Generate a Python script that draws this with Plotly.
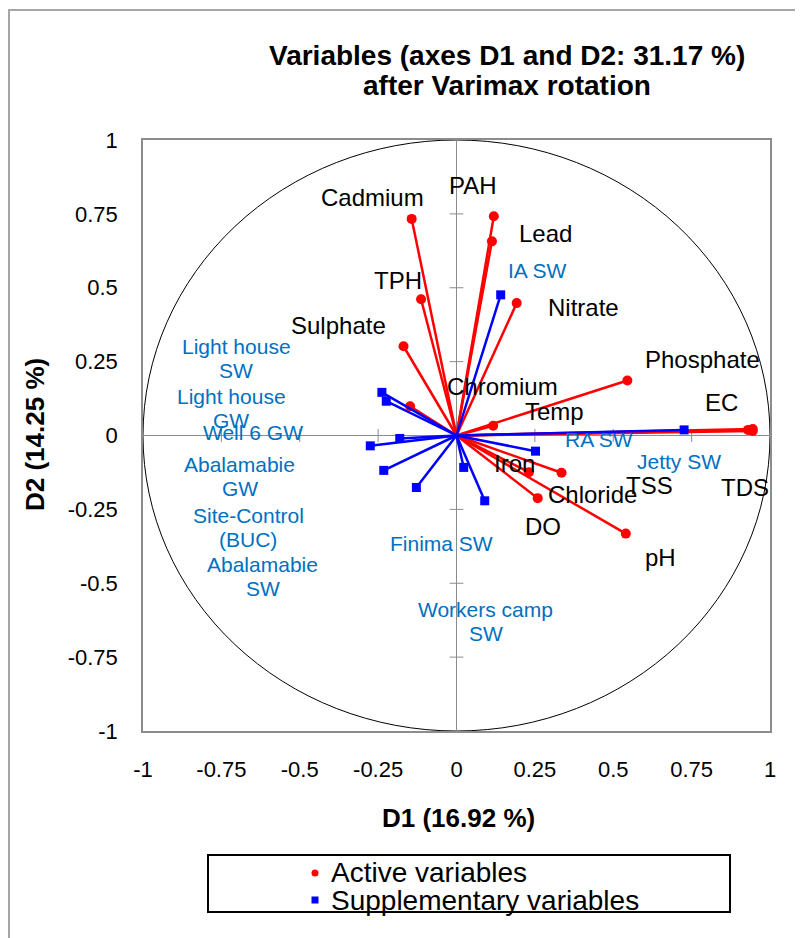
import plotly.graph_objects as go

# ---------------- data ----------------
active_names = ["Cadmium", "PAH", "Lead", "TPH", "Nitrate", "Sulphate", "Phosphate",
                "Chromium", "Temp", "EC", "TDS", "TSS", "Iron", "Chloride", "DO", "pH"]
active_d1 = [-0.143, 0.119, 0.113, -0.113, 0.192, -0.169, 0.545,
             -0.148, 0.117, 0.945, 0.945, 0.930, 0.231, 0.335, 0.259, 0.540]
active_d2 = [0.733, 0.742, 0.657, 0.461, 0.448, 0.302, 0.186,
             0.099, 0.033, 0.022, 0.015, 0.019, -0.124, -0.126, -0.212, -0.332]
# label anchor positions (data units)
active_lbl_x = [-0.267, 0.052, 0.284, -0.187, 0.405, -0.375, 0.786,
                0.147, 0.313, 0.844, 0.919, 0.616, 0.185, 0.435, 0.275, 0.650]
active_lbl_y = [0.806, 0.846, 0.683, 0.525, 0.434, 0.372, 0.257,
                0.166, 0.082, 0.113, -0.177, -0.169, -0.094, -0.200, -0.308, -0.412]

sup_names = ["Light house<br>SW", "Light house<br>GW", "Well 6 GW", "Abalamabie<br>GW",
             "Site-Control<br>(BUC)", "Abalamabie<br>SW", "Finima SW", "Workers camp<br>SW",
             "IA SW", "RA SW", "Jetty SW"]
sup_d1 = [-0.238, -0.224, -0.181, -0.275, -0.232, -0.128, 0.023, 0.090, 0.141, 0.252, 0.726]
sup_d2 = [0.146, 0.116, -0.010, -0.035, -0.118, -0.176, -0.108, -0.221, 0.476, -0.053, 0.019]
sup_lbl_x = [-0.702, -0.719, -0.650, -0.692, -0.664, -0.618, -0.048, 0.0925, 0.259, 0.456, 0.711]
sup_lbl_y = [0.259, 0.092, 0.011, -0.138, -0.311, -0.476, -0.365, -0.631, 0.558, -0.015, -0.088]

tick_vals = [-1, -0.75, -0.5, -0.25, 0, 0.25, 0.5, 0.75, 1]
tick_text = ["-1", "-0.75", "-0.5", "-0.25", "0", "0.25", "0.5", "0.75", "1"]
minor_ticks = [-0.75, -0.5, -0.25, 0.25, 0.5, 0.75]

title_lines = ["Variables (axes D1 and D2: 31.17 %)", "after Varimax rotation"]
x_title = "D1 (16.92 %)"
y_title = "D2 (14.25 %)"
legend_names = ["Active variables", "Supplementary variables"]

# ---------------- style ----------------
FONT = "Liberation Sans, Arial, sans-serif"
RED = "#FF0000"
BLUE = "#0000FF"
LBLUE = "#0070C0"
W, H = 795, 930          # page adds an 8px body margin
L, R, T, B = 135, 33, 132, 207


def px2x(px):
    return (px - L) / (W - L - R)


def py2y(py):
    return (H - B - py) / (H - T - B)


def spokes(xs, ys):
    lx, ly = [], []
    for a, b in zip(xs, ys):
        lx += [0, a, None]
        ly += [0, b, None]
    return lx, ly


fig = go.Figure()

ax, ay = spokes(active_d1, active_d2)
fig.add_trace(go.Scatter(x=ax, y=ay, mode="lines", line=dict(color=RED, width=2.5),
                         showlegend=False, hoverinfo="skip"))
fig.add_trace(go.Scatter(x=active_d1, y=active_d2, mode="markers", name=legend_names[0],
                         text=active_names, hoverinfo="text+x+y", showlegend=False,
                         marker=dict(color=RED, size=10, symbol="circle")))
sx, sy = spokes(sup_d1, sup_d2)
fig.add_trace(go.Scatter(x=sx, y=sy, mode="lines", line=dict(color=BLUE, width=2.5),
                         showlegend=False, hoverinfo="skip"))
fig.add_trace(go.Scatter(x=sup_d1, y=sup_d2, mode="markers", name=legend_names[1],
                         text=[n.replace("<br>", " ") for n in sup_names], hoverinfo="text+x+y",
                         showlegend=False,
                         marker=dict(color=BLUE, size=9, symbol="square")))

shapes = []
# unit circle
shapes.append(dict(type="circle", xref="x", yref="y", x0=-1, y0=-1, x1=1, y1=1,
                   line=dict(color="black", width=1), layer="below"))
# cross ticks on the zero lines
tdx, tdy = 0.022, 0.022
for t in minor_ticks:
    shapes.append(dict(type="line", xref="x", yref="y", x0=t, x1=t, y0=-tdy, y1=tdy,
                       line=dict(color="#8c8c8c", width=1), layer="below"))
    shapes.append(dict(type="line", xref="x", yref="y", x0=-tdx, x1=tdx, y0=t, y1=t,
                       line=dict(color="#8c8c8c", width=1), layer="below"))
# legend box
shapes.append(dict(type="rect", xref="paper", yref="paper",
                   x0=px2x(200), x1=px2x(722), y0=py2y(904), y1=py2y(847),
                   line=dict(color="black", width=2)))
# legend symbols
shapes.append(dict(type="circle", xref="paper", yref="paper",
                   x0=px2x(303.5), x1=px2x(310.5), y0=py2y(868.5), y1=py2y(861.5),
                   fillcolor=RED, line=dict(color=RED, width=0)))
shapes.append(dict(type="rect", xref="paper", yref="paper",
                   x0=px2x(303.5), x1=px2x(310.5), y0=py2y(895.5), y1=py2y(888.5),
                   fillcolor=BLUE, line=dict(color=BLUE, width=0)))
# outer frame (left and top)
shapes.append(dict(type="line", xref="paper", yref="paper", x0=px2x(1), x1=px2x(1),
                   y0=py2y(2), y1=py2y(930), line=dict(color="#a6a6a6", width=2)))
shapes.append(dict(type="line", xref="paper", yref="paper", x0=px2x(0), x1=px2x(795),
                   y0=py2y(2), y1=py2y(2), line=dict(color="#a6a6a6", width=2)))

annotations = []


def add_label(text, x, y, color, size, spacing):
    lines = text.split("<br>")
    n = len(lines)
    for i, ln in enumerate(lines):
        annotations.append(dict(x=x, y=y, xref="x", yref="y", text=ln, showarrow=False,
                                xanchor="center", yanchor="middle",
                                yshift=(n - 1) / 2 * spacing - i * spacing,
                                font=dict(family=FONT, size=size, color=color)))


for name, x, y in zip(active_names, active_lbl_x, active_lbl_y):
    add_label(name, x, y, "black", 24, 26)
for name, x, y in zip(sup_names, sup_lbl_x, sup_lbl_y):
    add_label(name, x, y, LBLUE, 21, 24)

# title
for txt, py in zip(title_lines, [47, 78]):
    annotations.append(dict(x=px2x(499), y=py2y(py), xref="paper", yref="paper", text="<b>%s</b>" % txt,
                            showarrow=False, xanchor="center", yanchor="middle",
                            font=dict(family=FONT, size=28, color="black")))
# axis titles
annotations.append(dict(x=px2x(450), y=py2y(810), xref="paper", yref="paper", text="<b>%s</b>" % x_title,
                        showarrow=False, xanchor="center", yanchor="middle",
                        font=dict(family=FONT, size=26, color="black")))
annotations.append(dict(x=px2x(27), y=py2y(427), xref="paper", yref="paper", text="<b>%s</b>" % y_title,
                        showarrow=False, xanchor="center", yanchor="middle", textangle=-90,
                        font=dict(family=FONT, size=26, color="black")))
# legend texts
for txt, py in zip(legend_names, [864, 892]):
    annotations.append(dict(x=px2x(321), y=py2y(py), xref="paper", yref="paper", text=txt,
                            showarrow=False, xanchor="left", yanchor="middle",
                            font=dict(family=FONT, size=28, color="black")))

axis_common = dict(range=[-1, 1], tickvals=tick_vals, ticktext=tick_text, showgrid=False,
                   zeroline=True, zerolinecolor="#8c8c8c", zerolinewidth=1,
                   showline=True, mirror=True, linecolor="#8c8c8c", linewidth=1.5,
                   ticks="outside", tickcolor="rgba(0,0,0,0)",
                   tickfont=dict(family=FONT, size=22, color="black"), fixedrange=True)

fig.update_layout(
    width=W, height=H,
    margin=dict(l=L, r=R, t=T, b=B, pad=0),
    paper_bgcolor="white", plot_bgcolor="white",
    xaxis=dict(axis_common, ticklen=18),
    yaxis=dict(axis_common, ticklen=19),
    shapes=shapes, annotations=annotations,
    showlegend=False,
    font=dict(family=FONT),
)

fig.write_html("out.html")
